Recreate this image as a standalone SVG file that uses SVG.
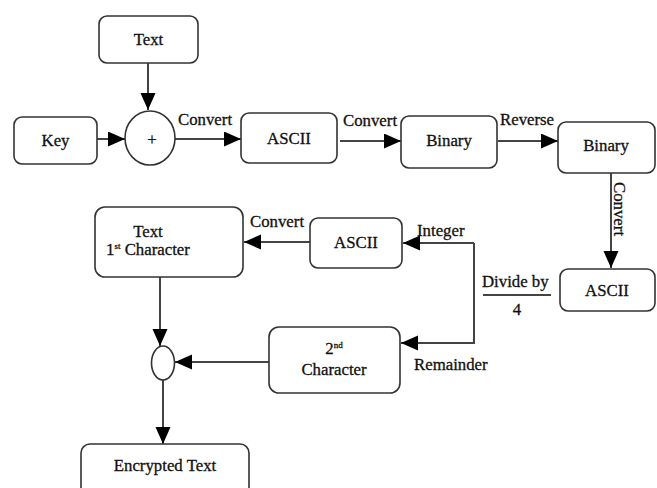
<svg xmlns="http://www.w3.org/2000/svg" width="657" height="488" viewBox="0 0 657 488">
<style>
.box{fill:#fff;stroke:#333;stroke-width:1.6}
.ln{fill:none;stroke:#444;stroke-width:2}
.t{font-family:"Liberation Serif","Times New Roman",serif;font-size:16.8px;fill:#111;stroke:#111;stroke-width:0.3}
.c{text-anchor:middle}
</style>
<defs>
<marker id="ah" markerUnits="userSpaceOnUse" markerWidth="18" markerHeight="16" refX="17" refY="7.5" orient="auto">
<path d="M0,0 L17,7.5 L0,15 z" fill="#000"/>
</marker>
</defs>
<rect width="657" height="488" fill="#fff"/>
<g id="connectors">
<line class="ln" x1="148" y1="63" x2="148" y2="110" marker-end="url(#ah)"/>
<line class="ln" x1="97" y1="139" x2="125" y2="139" marker-end="url(#ah)"/>
<line class="ln" x1="175" y1="139" x2="241" y2="139" marker-end="url(#ah)"/>
<line class="ln" x1="340" y1="141" x2="401" y2="141" marker-end="url(#ah)"/>
<line class="ln" x1="498" y1="141" x2="558" y2="141" marker-end="url(#ah)"/>
<line class="ln" x1="611" y1="173" x2="611" y2="268" marker-end="url(#ah)"/>
<line class="ln" x1="483" y1="295" x2="551" y2="295"/>
<polyline class="ln" points="474,243 474,343 401,343" marker-end="url(#ah)"/>
<line class="ln" x1="474" y1="243" x2="403" y2="243" marker-end="url(#ah)"/>
<line class="ln" x1="310" y1="242" x2="244" y2="242" marker-end="url(#ah)"/>
<line class="ln" x1="160" y1="277" x2="160" y2="346" marker-end="url(#ah)"/>
<line class="ln" x1="269" y1="362" x2="175" y2="362" marker-end="url(#ah)"/>
<line class="ln" x1="163" y1="380" x2="163" y2="444" marker-end="url(#ah)"/>
<text class="t" x="178" y="125">Convert</text>
<text class="t" x="343" y="126">Convert</text>
<text class="t" x="500" y="125">Reverse</text>
<text class="t" transform="translate(614,182) rotate(90)">Convert</text>
<text class="t" x="482" y="287">Divide by</text>
<text class="t c" x="517" y="315">4</text>
<text class="t" x="417" y="236">Integer</text>
<text class="t" x="250" y="227">Convert</text>
<text class="t" x="414" y="370">Remainder</text>
</g>
<g id="text-in"><rect class="box" x="99" y="16" width="99" height="47" rx="8"/><text class="t c" x="148.5" y="45">Text</text></g>
<g id="key"><rect class="box" x="14" y="117" width="83" height="47" rx="8"/><text class="t c" x="55.5" y="146">Key</text></g>
<g id="plus"><ellipse class="box" cx="150" cy="138" rx="25" ry="27"/><text class="t c" x="152" y="145" font-size="14">+</text></g>
<g id="ascii1"><rect class="box" x="241" y="113" width="96" height="50" rx="8"/><text class="t c" x="289" y="144">ASCII</text></g>
<g id="binary1"><rect class="box" x="401" y="116" width="96" height="52" rx="8"/><text class="t c" x="449" y="146">Binary</text></g>
<g id="binary2"><rect class="box" x="558" y="122" width="97" height="51" rx="8"/><text class="t c" x="606" y="151">Binary</text></g>
<g id="ascii2"><rect class="box" x="560" y="269" width="95" height="42" rx="8"/><text class="t c" x="607" y="296">ASCII</text></g>
<g id="ascii3"><rect class="box" x="310" y="218" width="92" height="50" rx="8"/><text class="t c" x="356" y="248">ASCII</text></g>
<g id="text1st"><rect class="box" x="95" y="207" width="148" height="70" rx="10"/><text class="t c" x="148" y="237">Text</text><text class="t c" x="148" y="255">1<tspan font-size="9" dy="-6">st</tspan><tspan dy="6"> Character</tspan></text></g>
<g id="join"><ellipse class="box" cx="163" cy="363" rx="11.5" ry="17"/></g>
<g id="char2"><rect class="box" x="269" y="327" width="131" height="66" rx="10"/><text class="t c" x="334" y="354">2<tspan font-size="9" dy="-6">nd</tspan></text><text class="t c" x="334" y="375">Character</text></g>
<g id="encrypted"><rect class="box" x="81" y="444" width="168" height="60" rx="9"/><text class="t c" x="165" y="471">Encrypted Text</text></g>
</svg>
